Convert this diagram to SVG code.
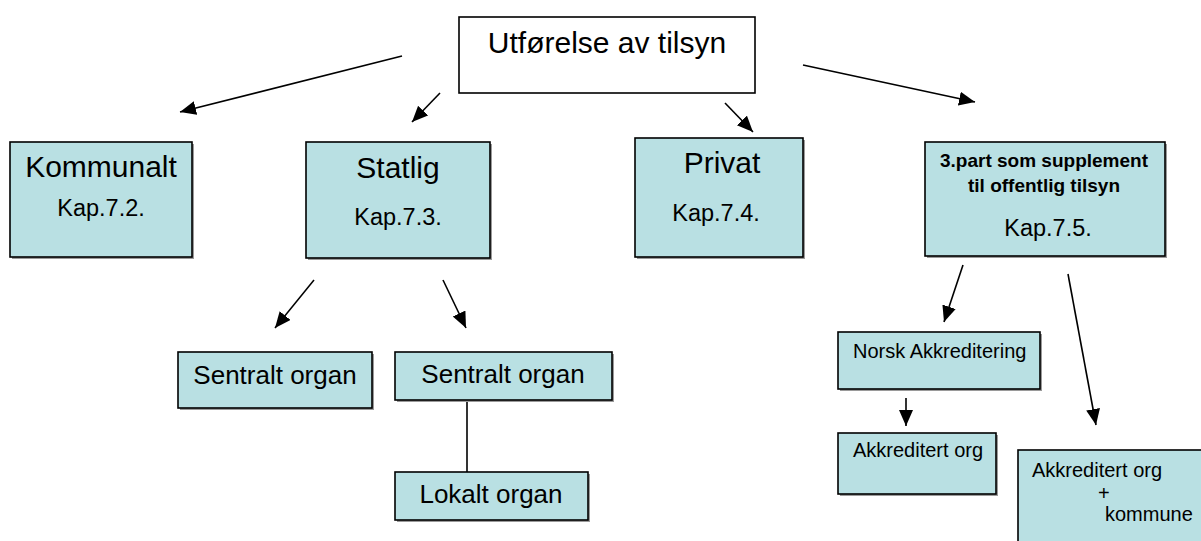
<svg xmlns="http://www.w3.org/2000/svg" width="1201" height="541" viewBox="0 0 1201 541">
<style>
.box{fill:#b9e0e3;stroke:#000;stroke-width:1.6}
.wbox{fill:#fff;stroke:#000;stroke-width:1.6}
.sh{fill:#9a9a9a}
text{font-family:"Liberation Sans",Arial,sans-serif;fill:#000}
.c{stroke:#000;stroke-width:1.6;fill:none}
.big{font-size:30px}
.kap{font-size:23.5px}
.mid{font-size:26px}
.sm{font-size:20px}
.b{font-size:19px;font-weight:bold}
</style>
<defs>
<marker id="ah" markerUnits="userSpaceOnUse" markerWidth="18" markerHeight="16" refX="16" refY="7" orient="auto">
<path d="M0,0 L16,7 L0,14 Z" fill="#000"/>
</marker>
</defs>
<g id="connectors">
<line class="c" x1="402" y1="56" x2="180" y2="112" marker-end="url(#ah)"/>
<line class="c" x1="440" y1="93" x2="412" y2="122" marker-end="url(#ah)"/>
<line class="c" x1="725" y1="103" x2="753" y2="132" marker-end="url(#ah)"/>
<line class="c" x1="803" y1="65" x2="975" y2="102" marker-end="url(#ah)"/>
<line class="c" x1="314" y1="280" x2="275" y2="328" marker-end="url(#ah)"/>
<line class="c" x1="443" y1="280" x2="466" y2="328" marker-end="url(#ah)"/>
<line class="c" x1="963" y1="265" x2="944" y2="322" marker-end="url(#ah)"/>
<line class="c" x1="1068" y1="274" x2="1096" y2="425" marker-end="url(#ah)"/>
<line class="c" x1="906" y1="398" x2="906" y2="426" marker-end="url(#ah)"/>
<line class="c" x1="467" y1="400" x2="467" y2="472"/>
</g>
<g id="top">
<rect class="wbox" x="459" y="17" width="296" height="76"/>
<text class="big" x="607" y="53" text-anchor="middle">Utførelse av tilsyn</text>
</g>
<g id="kommunalt">
<rect class="sh" x="12" y="144" width="182" height="115"/>
<rect class="box" x="10" y="142" width="182" height="115"/>
<text class="big" x="101" y="177" text-anchor="middle">Kommunalt</text>
<text class="kap" x="101" y="216" text-anchor="middle">Kap.7.2.</text>
</g>
<g id="statlig">
<rect class="sh" x="308" y="144" width="184" height="116"/>
<rect class="box" x="306" y="142" width="184" height="116"/>
<text class="big" x="398" y="178" text-anchor="middle">Statlig</text>
<text class="kap" x="398" y="225" text-anchor="middle">Kap.7.3.</text>
</g>
<g id="privat">
<rect class="sh" x="637" y="140" width="168" height="119"/>
<rect class="box" x="635" y="138" width="168" height="119"/>
<text class="big" x="722" y="173" text-anchor="middle">Privat</text>
<text class="kap" x="716" y="221" text-anchor="middle">Kap.7.4.</text>
</g>
<g id="tredjepart">
<rect class="sh" x="927" y="144" width="240" height="114"/>
<rect class="box" x="925" y="142" width="240" height="114"/>
<text class="b" x="1044" y="167" text-anchor="middle">3.part som supplement</text>
<text class="b" x="1044" y="192" text-anchor="middle">til offentlig tilsyn</text>
<text class="kap" x="1048" y="236" text-anchor="middle">Kap.7.5.</text>
</g>
<g id="sentralt1">
<rect class="sh" x="180" y="354" width="194" height="56"/>
<rect class="box" x="178" y="352" width="194" height="56"/>
<text class="mid" x="275" y="384" text-anchor="middle">Sentralt organ</text>
</g>
<g id="sentralt2">
<rect class="sh" x="397" y="354" width="217" height="48"/>
<rect class="box" x="395" y="352" width="217" height="48"/>
<text class="mid" x="503" y="383" text-anchor="middle">Sentralt organ</text>
</g>
<g id="lokalt">
<rect class="sh" x="397" y="474" width="193" height="48"/>
<rect class="box" x="395" y="472" width="193" height="48"/>
<text class="mid" x="491" y="503" text-anchor="middle">Lokalt organ</text>
</g>
<g id="norsk">
<rect class="sh" x="840" y="334" width="202" height="57"/>
<rect class="box" x="838" y="332" width="202" height="57"/>
<text class="sm" x="853" y="358">Norsk Akkreditering</text>
</g>
<g id="akkr1">
<rect class="sh" x="840" y="435" width="158" height="61"/>
<rect class="box" x="838" y="433" width="158" height="61"/>
<text class="sm" x="853" y="457">Akkreditert org</text>
</g>
<g id="akkr2">
<rect class="box" x="1018" y="450" width="190" height="100"/>
<text class="sm" x="1032" y="477">Akkreditert org</text>
<text class="sm" x="1098" y="500">+</text>
<text class="sm" x="1105" y="521">kommune</text>
</g>
</svg>
